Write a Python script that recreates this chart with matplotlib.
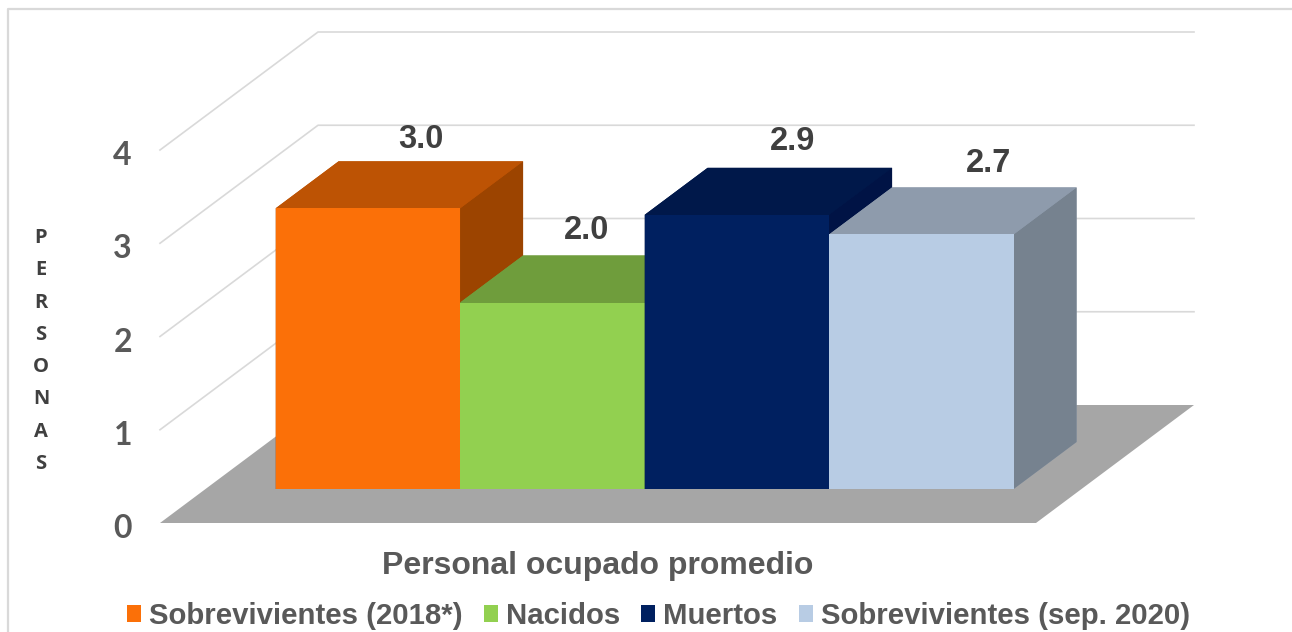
from matplotlib import pyplot as plt
from matplotlib.patches import Patch, Polygon

# datos
categorias = ['Sobrevivientes (2018*)', 'Nacidos', 'Muertos', 'Sobrevivientes (sep. 2020)']
valores = [3.01, 2.0, 2.94, 2.73]
etiquetas = ['3.0', '2.0', '2.9', '2.7']
y_ticks = [0, 1, 2, 3, 4]

# colores de cada barra: frente, arriba, lado
frente = ['#FB7008', '#92D050', '#002060', '#B8CCE4']
arriba = ['#BD5304', '#6F9D3C', '#00184A', '#8E9BAC']
lado = ['#9C4400', '#6F9D3C', '#001345', '#76828F']

W, H = 1292, 632
PX_X = 184.5   # pixeles por barra
PX_Y = 93.25   # pixeles por persona
X0, Y0 = 160, 523   # esquina frontal del piso
DX, DY = 158 / PX_X, 118 / PX_Y   # profundidad total del piso
PISO = 876 / PX_X
GAP = 0.38
D1, D2 = 34 / 118, 81 / 118   # profundidad de las barras


# proyeccion oblicua
def pro(x, v, d=0.0):
    return (x + d * DX, v + d * DY)


fig = plt.figure(figsize=(W / 100, H / 100), dpi=100)
ax = fig.add_axes([0, 0, 1, 1])
ax.set_xlim(-X0 / PX_X, (W - X0) / PX_X)
ax.set_ylim((Y0 - H) / PX_Y, Y0 / PX_Y)
ax.axis('off')

# marco
fig.add_artist(plt.Line2D([8 / W, 8 / W, 1], [0, 1 - 9 / H, 1 - 9 / H],
                          color='#D9D9D9', lw=1.6))

# piso
ax.add_patch(Polygon([pro(0, 0), pro(PISO, 0), pro(PISO, 0, 1), pro(0, 0, 1)],
                     fc='#A6A6A6', ec='none', zorder=1))

# rejilla
for t in y_ticks[1:]:
    xs, ys = zip(pro(0, t), pro(0, t, 1), pro(PISO, t, 1))
    ax.plot(xs, ys, color='#D9D9D9', lw=1.2, zorder=2)

# barras, de izquierda a derecha
for i, v in enumerate(valores):
    x1 = GAP + i
    x2 = x1 + 1
    # silueta debajo para que no se vea la union entre caras
    ax.add_patch(Polygon([pro(x1, 0, D1), pro(x2, 0, D1), pro(x2, 0, D2),
                          pro(x2, v, D2), pro(x1, v, D2), pro(x1, v, D1)],
                         fc=arriba[i], ec='none', zorder=3 + i))
    ax.add_patch(Polygon([pro(x2, 0, D1), pro(x2, 0, D2), pro(x2, v, D2), pro(x2, v, D1)],
                         fc=lado[i], ec='none', zorder=3 + i))
    ax.add_patch(Polygon([pro(x1, v, D1), pro(x2, v, D1), pro(x2, v, D2), pro(x1, v, D2)],
                         fc=arriba[i], ec='none', zorder=3 + i))
    ax.add_patch(Polygon([pro(x1, 0, D1), pro(x2, 0, D1), pro(x2, v, D1), pro(x1, v, D1)],
                         fc=frente[i], ec='none', zorder=3 + i))

# etiquetas de datos
desp_x = [-10, -29, -7, 4]
desp_y = [22, 25, 26, 24]
for i, v in enumerate(valores):
    x, y = pro(GAP + i + 0.5, v, D2)
    ax.annotate(etiquetas[i], (x, y), xytext=(desp_x[i] * 0.72, desp_y[i] * 0.72),
                textcoords='offset points', ha='center', va='center',
                fontsize=23.5, fontweight='bold', color='#404040',
                family='Liberation Sans', zorder=10)

# eje y
for t in y_ticks:
    ax.text(-28 / PX_X, t - 5.5 / PX_Y, str(t), ha='right', va='center',
            fontsize=23, fontweight='bold', color='#595959', family='Lato')

ax.text((41 - X0) / PX_X, (Y0 - 351) / PX_Y, '\n'.join('PERSONAS'), ha='center', va='center',
        fontsize=14.5, fontweight='bold', color='#404040', family='Open Sans', linespacing=1.82)

# titulo eje x
ax.text((598 - X0) / PX_X, (Y0 - 566) / PX_Y, 'Personal ocupado promedio', ha='center', va='center',
        fontsize=23, fontweight='bold', color='#595959', family='Liberation Sans')

# leyenda
handles = [Patch(fc=c, ec='none', label=n) for c, n in zip(frente, categorias)]
ax.legend(handles=handles, ncol=4, loc='center', bbox_to_anchor=(658.5 / W, 1 - 616 / H),
          frameon=False, handlelength=0.48, handleheight=0.48, handletextpad=0.27,
          columnspacing=0.72, borderpad=0, borderaxespad=0,
          prop={'family': 'Liberation Sans', 'weight': 'bold', 'size': 21.2}, labelcolor='#595959')

plt.savefig('out.png', dpi=100)
